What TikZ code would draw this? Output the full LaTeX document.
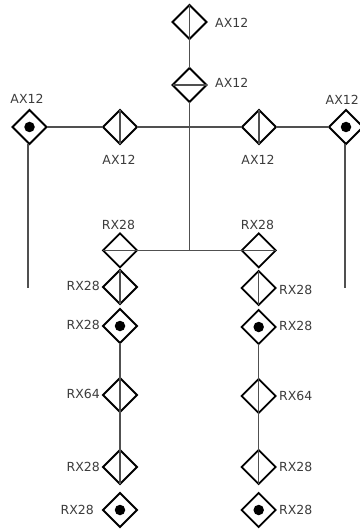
\documentclass[tikz,border=0pt]{standalone}
\usepackage{fontspec}
\setmainfont{DejaVu Sans}
\usetikzlibrary{shapes.geometric}
\definecolor{lbl}{HTML}{3C3C3C}
\definecolor{wire}{HTML}{505050}
\tikzset{
  joint/.style={diamond,draw=black,line width=1.8pt,minimum width=34pt,minimum height=34pt,inner sep=0pt,outer sep=0pt,aspect=1},
  dotc/.style={circle,fill=black,minimum size=10.5pt,inner sep=0pt},
  wirel/.style={draw=wire,line width=1.1pt},
  axisl/.style={draw=wire,line width=1.8pt},
  lab/.style={font=\fontsize{12.5pt}{13pt}\selectfont,text=lbl,inner sep=0pt}
}
\begin{document}
\begin{tikzpicture}[x=1pt,y=-1pt]
\useasboundingbox (0,0) rectangle (359,529);
% joints
\node[joint] (top) at (189.5,22) {};
\node[joint] (sec) at (189.5,85) {};
\node[joint] (lo) at (29.5,127) {};
\node[joint] (li) at (120,127) {};
\node[joint] (ri) at (259,127) {};
\node[joint] (ro) at (346,127) {};
\node[joint] (p1) at (120,250.4) {};
\node[joint] (a2) at (120,287) {};
\node[joint] (a3) at (120,326) {};
\node[joint] (a4) at (120,395) {};
\node[joint] (a5) at (120,467) {};
\node[joint] (a6) at (120,510) {};
\node[joint] (q1) at (258.7,250.4) {};
\node[joint] (b2) at (258.7,288) {};
\node[joint] (b3) at (258.7,327) {};
\node[joint] (b4) at (258.7,396) {};
\node[joint] (b5) at (258.7,467) {};
\node[joint] (b6) at (258.7,510) {};
% free ends
\coordinate (lfree) at (28,288);
\coordinate (rfree) at (345,288);
% connectors
\draw[wirel] (top) -- (sec);
\draw[wirel] (sec.south) -- (sec |- p1);
\draw[wirel] (lo) -- (li);
\draw[wirel] (li) -- (ri);
\draw[wirel] (ri) -- (ro);
\draw[wirel] (lo.south -| lfree) -- (lfree);
\draw[wirel] (ro.south -| rfree) -- (rfree);
\draw[wirel] (p1) -- (q1);
\draw[wirel] (a3) -- (a4);
\draw[wirel] (a4) -- (a5);
\draw[wirel] (b3) -- (b4);
\draw[wirel] (b4) -- (b5);
% inner axes
\foreach \n in {top,li,ri,a2,a4,a5,b2,b4,b5} \draw[wirel] (\n.north) -- (\n.south);
\draw[wirel,line width=1.4pt] (sec.west) -- (sec.east);
\draw[axisl] (p1.west) -- (p1.east);
\draw[axisl] (q1.west) -- (q1.east);
% dots
\foreach \n in {lo,ro,a3,a6,b3,b6} \node[dotc] at (\n) {};
% labels
\node[lab,anchor=west] (t1) at (215,23) {AX12};
\node[lab,anchor=west] (t2) at (215,82.5) {AX12};
\node[lab] (t3) at (27,99) {AX12};
\node[lab] (t4) at (119,160) {AX12};
\node[lab] (t5) at (258,160) {AX12};
\node[lab,anchor=west] (t6) at (325.5,100) {AX12};
\node[lab] (t7) at (118.5,225) {RX28};
\node[lab] (t8) at (257.5,225) {RX28};
\node[lab,anchor=east] (t9) at (100,286) {RX28};
\node[lab,anchor=east] (t10) at (100,325) {RX28};
\node[lab,anchor=east] (t11) at (100,394) {RX64};
\node[lab,anchor=east] (t12) at (100,467) {RX28};
\node[lab,anchor=east] (t13) at (94,510) {RX28};
\node[lab,anchor=west] (t14) at (279,290) {RX28};
\node[lab,anchor=west] (t15) at (279,326) {RX28};
\node[lab,anchor=west] (t16) at (279,396) {RX64};
\node[lab,anchor=west] (t17) at (279,467) {RX28};
\node[lab,anchor=west] (t18) at (279,510) {RX28};
\end{tikzpicture}
\end{document}
